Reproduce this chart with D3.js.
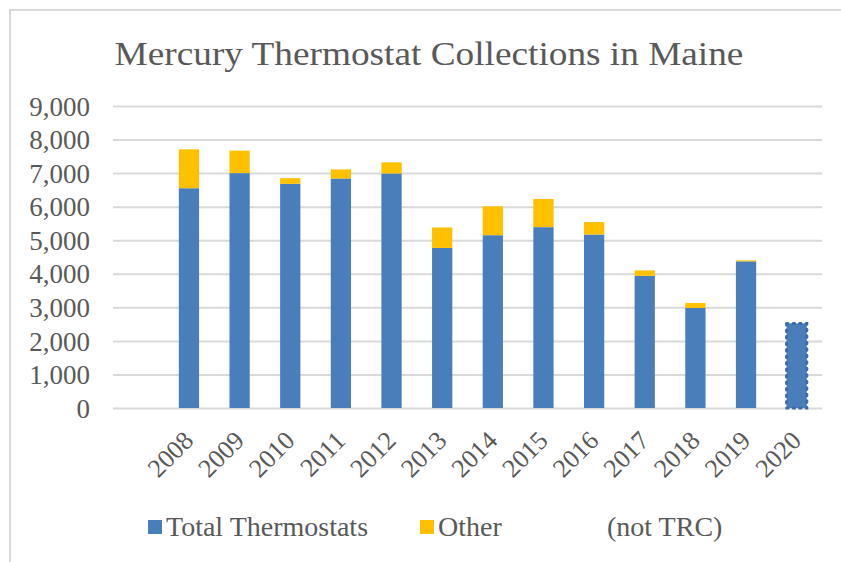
<!DOCTYPE html>
<html>
<head>
<meta charset="utf-8">
<script src="https://cdn.jsdelivr.net/npm/d3@7"></script>
<style>
  body { margin: 0; background: #fff; }
</style>
</head>
<body>
<div id="chart"></div>
<script>
// data
const years = ["2008", "2009", "2010", "2011", "2012", "2013", "2014", "2015", "2016", "2017", "2018", "2019", "2020"];
const totalThermostats = [6550, 7000, 6680, 6840, 6990, 4770, 5150, 5390, 5170, 3940, 2980, 4370, 2520];
const otherNotTRC = [1160, 670, 170, 270, 330, 610, 860, 840, 370, 160, 150, 30, 0];
const yTicks = [0, 1000, 2000, 3000, 4000, 5000, 6000, 7000, 8000, 9000];
const partialYear = "2020";

const W = 841, H = 562;
const FONT = "'Liberation Serif', 'Times New Roman', serif";
const TEXT = "#595959";
const subgroups = ["total", "other"];
const color = d3.scaleOrdinal().domain(subgroups).range(["#4a7ebb", "#ffc000"]);

const rows = years.map((y, i) => ({ year: y, total: totalThermostats[i], other: otherNotTRC[i] }));

const svg = d3.select("#chart").append("svg")
  .attr("width", W)
  .attr("height", H)
  .style("font-family", FONT);

svg.append("rect").attr("width", W).attr("height", H).attr("fill", "#fff");

// chart frame, only left/top edges show in the crop
svg.append("rect")
  .attr("x", 10).attr("y", 10)
  .attr("width", W + 20).attr("height", H + 20)
  .attr("fill", "none")
  .attr("stroke", "#d9d9d9")
  .attr("stroke-width", 2);

// first category is an empty slot, like in the original sheet
const x = d3.scaleBand()
  .domain([""].concat(years))
  .range([113, 822])
  .paddingInner(0.6)
  .paddingOuter(0.3);

const y = d3.scaleLinear().domain([0, 9000]).range([408, 106]);

// gridlines + y labels
const yAxis = svg.append("g")
  .attr("transform", "translate(113,0)")
  .call(d3.axisLeft(y).tickValues(yTicks).tickFormat(d3.format(",")).tickSize(-709).tickPadding(23));
yAxis.attr("font-family", null);
yAxis.select(".domain").remove();
yAxis.selectAll("line").attr("stroke", "#d9d9d9").attr("stroke-width", 2);
yAxis.selectAll("text")
  .style("font-family", FONT)
  .style("font-size", "27px")
  .attr("fill", TEXT)
  .attr("dy", "0.34em");

// stacked bars
const stacked = d3.stack().keys(subgroups)(rows);

svg.append("g")
  .selectAll("g")
  .data(stacked)
  .join("g")
  .attr("fill", d => color(d.key))
  .selectAll("rect")
  .data(d => d.filter(p => p[1] - p[0] > 0))
  .join("rect")
  .attr("x", d => x(d.data.year))
  .attr("y", d => y(d[1]))
  .attr("width", x.bandwidth())
  .attr("height", d => y(d[0]) - y(d[1]))
  .attr("stroke", d => d.data.year === partialYear ? "#3c6cab" : "none")
  .attr("stroke-width", d => d.data.year === partialYear ? 3 : 0)
  .attr("stroke-dasharray", "1.5,5")
  .attr("stroke-linecap", "round");

// x labels, rotated
svg.append("g")
  .selectAll("text")
  .data(years)
  .join("text")
  .attr("transform", d => `translate(${x(d) + x.bandwidth() / 2 + 6},442) rotate(-45)`)
  .attr("text-anchor", "end")
  .attr("fill", TEXT)
  .style("font-family", FONT)
  .style("font-size", "26px")
  .text(d => d);

// title (a bit stretched sideways in the original)
svg.append("text")
  .attr("transform", "translate(429,65) scale(1.13,1)")
  .attr("text-anchor", "middle")
  .attr("fill", TEXT)
  .style("font-family", FONT)
  .style("font-size", "33px")
  .text("Mercury Thermostat Collections in Maine");

// legend
const legend = svg.append("g");
const legendItems = [
  { key: "total", label: "Total Thermostats", x: 148 },
  { key: "other", label: "Other", x: 420 }
];
legend.selectAll("rect")
  .data(legendItems)
  .join("rect")
  .attr("x", d => d.x)
  .attr("y", 520)
  .attr("width", 14)
  .attr("height", 14)
  .attr("fill", d => color(d.key));
legend.selectAll("text.lab")
  .data(legendItems)
  .join("text")
  .attr("class", "lab")
  .attr("x", d => d.x + 18)
  .attr("y", 536)
  .attr("fill", TEXT)
  .style("font-family", FONT)
  .style("font-size", "28px")
  .text(d => d.label);
legend.append("text")
  .attr("x", 607)
  .attr("y", 536)
  .attr("fill", TEXT)
  .style("font-family", FONT)
  .style("font-size", "28px")
  .text("(not TRC)");
</script>
</body>
</html>
